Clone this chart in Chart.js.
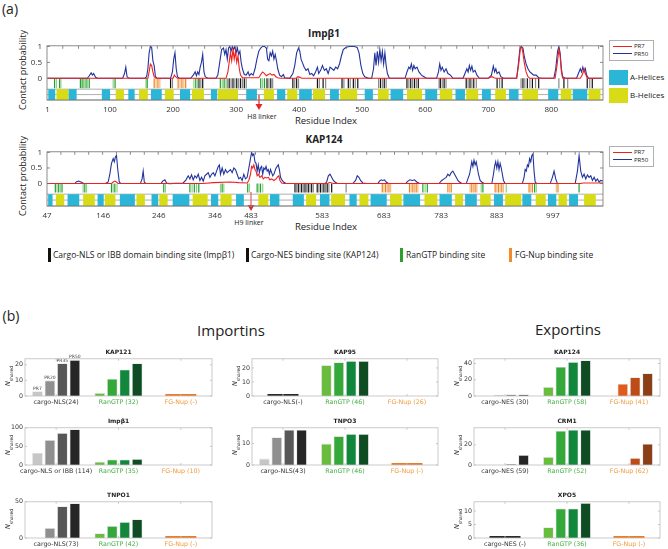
<!DOCTYPE html>
<html>
<head>
<meta charset="utf-8">
<script src="https://cdn.jsdelivr.net/npm/chart.js@4.4.1/dist/chart.umd.min.js"></script>
<style>
  body { margin:0; width:668px; height:549px; position:relative; overflow:hidden; background:#fff; font-family:'Open Sans',sans-serif; color:#222; }
  .t { position:absolute; white-space:nowrap; line-height:1; transform:translate(-50%,-50%); }
  .rot { transform:translate(-50%,-50%) rotate(-90deg); }
  .lg { position:absolute; white-space:nowrap; line-height:1; font-size:8.5px; }
  .bar { position:absolute; width:2.5px; height:14px; }
  .sq { position:absolute; width:19px; height:15px; }
  .bt { position:absolute; font-family:'DejaVu Sans',sans-serif; font-weight:bold; font-size:6px; transform:translate(-50%,-50%); white-space:nowrap; }
  .ns { position:absolute; font-family:'DejaVu Sans',sans-serif; font-size:6.5px; white-space:nowrap; transform:translate(-50%,-50%) rotate(-90deg); }
  .ns sub { font-size:4.5px; }
  .pl { position:absolute; border:1px solid #b0b0b0; background:#fff; width:43px; height:19px; font-size:6px; }
  .pl div { position:absolute; left:3px; width:19px; height:1.2px; }
  .pl span { position:absolute; left:24px; line-height:1; }
</style>
</head>
<body>

<div class="t" style="left:10px;top:9px;font-size:14px;">(a)</div>
<div class="t" style="left:324px;top:33px;font-size:10px;font-weight:bold;">Impβ1</div>
<div class="t rot" style="left:22px;top:70px;font-size:9px;">Contact probability</div>
<div class="t" style="left:326px;top:121px;font-size:9.5px;">Residue Index</div>
<div class="t" style="left:262px;top:116px;font-size:7px;">H8 linker</div>

<div class="t" style="left:324px;top:139px;font-size:10px;font-weight:bold;">KAP124</div>
<div class="t rot" style="left:22px;top:176px;font-size:9px;">Contact probability</div>
<div class="t" style="left:326px;top:227px;font-size:9.5px;">Residue Index</div>
<div class="t" style="left:249px;top:222px;font-size:7px;">H9 linker</div>

<svg style="position:absolute;left:250px;top:94px" width="18" height="20">
  <line x1="9" y1="1" x2="9" y2="12" stroke="#e32626" stroke-width="1.2"/>
  <polygon points="5.5,10 12.5,10 9,16" fill="#e32626"/>
</svg>
<svg style="position:absolute;left:242px;top:191px" width="18" height="24">
  <line x1="9" y1="1" x2="9" y2="16" stroke="#ec5a5a" stroke-width="1.2"/>
  <polygon points="5.5,14 12.5,14 9,20" fill="#e32626"/>
</svg>

<div class="pl" style="left:609px;top:40px;">
  <div style="top:5px;background:#f02020"></div><span style="top:2px">PR7</span>
  <div style="top:12px;background:#22349c"></div><span style="top:9.5px">PR50</span>
</div>
<div class="pl" style="left:609px;top:146px;">
  <div style="top:5px;background:#f02020"></div><span style="top:2px">PR7</span>
  <div style="top:12px;background:#22349c"></div><span style="top:9.5px">PR50</span>
</div>
<div class="sq" style="left:609px;top:70px;background:#2bb6d8"></div>
<div class="lg" style="left:630px;top:73px;font-size:8px;">A-Helices</div>
<div class="sq" style="left:609px;top:88px;background:#d8dc16"></div>
<div class="lg" style="left:630px;top:91px;font-size:8px;">B-Helices</div>

<div class="bar" style="left:48px;top:248px;background:#111"></div>
<div class="lg" style="left:53px;top:251px;">Cargo-NLS or IBB domain binding site (Impβ1)</div>
<div class="bar" style="left:246px;top:248px;background:#111"></div>
<div class="lg" style="left:251px;top:251px;">Cargo-NES binding site (KAP124)</div>
<div class="bar" style="left:400px;top:248px;background:#2ca02c"></div>
<div class="lg" style="left:406px;top:251px;">RanGTP binding site</div>
<div class="bar" style="left:509px;top:248px;background:#f28a2a"></div>
<div class="lg" style="left:515px;top:251px;">FG-Nup binding site</div>

<div class="t" style="left:11px;top:316px;font-size:14px;">(b)</div>
<div class="t" style="left:231px;top:330px;font-size:15px;">Importins</div>
<div class="t" style="left:568px;top:329px;font-size:15px;">Exportins</div>

<script>
// ---------- panel (a): Impβ1 ----------
const impPR50 = [[1,0],[64,0],[67,0.08],[70,0.17],[72,0.1],[74,0.15],[77,0.03],[80,0],
  [120,0],[123,0.15],[125,0.35],[127,0.05],[130,0],
  [155,0],[158,0.05],[160,0.3],[162,0.8],[164,1.0],[166,0.97],[168,0.55],[170,0.4],[172,0.05],[175,0],
  [196,0],[199,0.2],[201,0.6],[203,0.8],[205,0.3],[207,0.05],[210,0],
  [228,0],[232,0.1],[235,0.2],[237,0.08],[239,0.2],[241,0.12],[243,0.35],[245,0.5],[247,0.75],[249,0.2],[251,0.05],[255,0],
  [268,0],[271,0.1],[274,0.5],[277,0.9],[280,0.95],[282,0.75],[284,0.9],[286,0.6],[288,0.95],[290,1.0],[292,0.85],[294,1.0],[296,0.9],[298,1.0],[300,0.8],[302,0.95],[304,0.75],[306,0.85],[308,0.5],[310,0.3],[313,0.12],[316,0.1],[319,0.2],[321,0.08],[324,0.15],[327,0.1],
  [330,0.3],[333,0.6],[336,0.85],[339,0.95],[342,1.0],[345,1.0],[348,0.95],[350,0.6],[352,0.55],[354,0.8],[356,0.7],[358,0.85],[360,0.6],[362,0.75],[364,0.55],[366,0.3],[369,0.1],[372,0.05],[375,0.12],[377,0.02],[385,0],
  [390,0.15],[393,0.4],[396,0.8],[399,0.95],[401,0.85],[403,0.6],[405,0.5],[408,0.35],[411,0.25],[414,0.3],[417,0.12],[420,0.15],[423,0.08],[426,0.2],[429,0.35],[431,0.15],[434,0.25],[437,0.4],[440,0.25],[443,0.3],[446,0.15],[449,0.35],[452,0.3],[455,0.25],[458,0.35],[461,0.3],
  [464,0.45],[467,0.7],[470,0.9],[473,0.95],[476,0.98],[480,1.0],[488,1.0],[492,0.97],[495,0.8],[498,0.4],[501,0.15],[504,0.05],[510,0],
  [515,0],[518,0.3],[520,0.8],[522,0.4],[524,0.85],[526,0.5],[528,0.9],[530,0.55],[532,0.85],[534,0.45],[536,0.8],[538,0.4],[540,0.15],[543,0],
  [568,0],[571,0.2],[574,0.35],[576,0.3],[578,0.45],[580,0.25],[582,0.4],[584,0.3],[587,0.35],[590,0.2],[594,0.1],[598,0.05],[602,0],
  [618,0],[621,0.2],[623,0.45],[625,0.25],[627,0.35],[630,0.2],[633,0.3],[636,0.15],[640,0.1],[644,0],
  [660,0],[663,0.15],[666,0.3],[668,0.2],[670,0.4],[672,0.25],[674,0.38],[676,0.2],[679,0.25],[682,0.1],[686,0],
  [700,0],[705,0.1],[708,0.38],[710,0.2],[712,0.3],[714,0.15],[717,0.2],[720,0.05],[724,0],
  [745,0],[748,0.5],[750,0.9],[752,1.0],[755,0.95],[757,0.7],[760,0.45],[763,0.3],[766,0.2],[769,0.15],[772,0.1],[776,0.1],[780,0.02],[785,0],
  [804,0],[807,0.3],[810,0.85],[812,1.0],[814,0.8],[816,0.3],[818,0.05],[822,0],
  [840,0],[843,0.15],[846,0.3],[848,0.2],[850,0.35],[852,0.2],[854,0.3],[856,0.1],[859,0],[880,0]];
const impPR7 = [[1,0],[160,0],[162,0.2],[164,0.45],[166,0.4],[168,0.2],[170,0.05],[173,0],[200,0],[202,0.1],[204,0.05],[207,0],
  [284,0],[287,0.2],[289,0.5],[291,0.8],[293,0.55],[295,0.9],[297,0.6],[299,0.85],[301,0.5],[303,0.7],[305,0.3],[307,0.1],[310,0.02],
  [336,0.02],[339,0.12],[342,0.2],[345,0.15],[348,0.08],[351,0.12],[354,0.15],[357,0.1],[360,0.12],[363,0.05],[366,0.02],[370,0],
  [395,0],[398,0.05],[401,0.03],[404,0],[700,0],[706,0.05],[709,0.02],[712,0],
  [745,0],[748,0.4],[751,0.95],[753,0.98],[755,0.8],[757,0.5],[760,0.2],[763,0.05],[766,0],
  [806,0],[809,0.4],[812,0.9],[814,0.7],[816,0.2],[818,0],
  [846,0],[849,0.1],[852,0.3],[854,0.15],[857,0],[880,0]];
const impTicks = [1,100,200,300,400,500,600,700,800];
const impRan = [12,15,20,22,53,55,57,59,62,64,67,105,108,157,159,233,236,239,275,278,281,284,339,342,345];
const impFG = [170,173,176,179,208,211,214,217,220];
const impNLS = [196,199,241,244,247,286,289,292,295,298,301,304,307,310,313,316,349,352,355,358,390,393,396,399,429,432,438,442,468,471,478,481,486,489,493,
  526,529,532,535,538,571,574,577,580,583,586,589,622,624,627,630,633,665,668,671,674,677,681,714,718,722,752,755,758,762,766,770,775,780,812,820,826,857,861,865];
const impHelixA = [[2,13],[34,47],[87,100],[129,139],[165,182],[211,227],[260,270],[316,333],[365,378],[400,420],[449,463],[504,517],[545,565],[600,619],[648,663],[690,704],[733,748],[795,811],[834,857]];
const impHelixB = [[15,34],[109,122],[146,160],[187,201],[230,249],[271,303],[344,360],[381,397],[422,441],[465,492],[525,542],[571,595],[623,643],[665,684],[711,728],[754,779],[815,832],[859,878]];

// ---------- panel (a): KAP124 (plot index, labelled with residue numbers) ----------
const kapPR50 = [[0,0],[50,0],[53,0.06],[57,0.08],[62,0.04],[66,0],
  [105,0],[110,0.05],[113,0.3],[116,0.65],[119,0.8],[121,0.7],[123,0.85],[125,0.9],[127,0.5],[130,0.05],[133,0],
  [168,0],[171,0.15],[173,0.4],[175,0.05],[178,0],[205,0],[208,0.08],[212,0.12],[215,0.02],[220,0],
  [245,0.02],[250,0.12],[254,0.25],[257,0.15],[260,0.28],[263,0.12],[266,0.25],[269,0.18],[272,0.3],[275,0.1],[278,0.2],[281,0.08],[284,0.25],[287,0.3],[290,0.35],[293,0.2],[296,0.3],[299,0.35],[302,0.25],[305,0.4],[308,0.55],[310,0.6],[312,0.3],[315,0.5],[318,0.3],[321,0.45],[324,0.35],[327,0.4],[330,0.45],[333,0.35],[336,0.5],[339,0.45],[342,0.3],[345,0.15],[348,0.2],[351,0.1],[354,0.3],[357,0.15],[360,0.2],
  [363,0.5],[366,0.8],[368,1.0],[370,0.9],[372,0.95],[374,0.7],[376,0.65],[378,0.4],[380,0.6],[382,0.35],[384,0.5],[386,0.55],[388,0.3],[390,0.5],[392,0.45],[394,0.55],[396,0.4],[398,0.45],[400,0.3],[402,0.45],[404,0.35],[406,0.25],[408,0.3],[410,0.4],[412,0.5],[414,0.55],[416,0.6],[418,0.45],[420,0.2],[423,0.1],[426,0.04],[430,0],
  [500,0],[503,0.05],[506,0.25],[509,0.3],[512,0.2],[515,0.1],[518,0.05],[522,0],
  [550,0],[555,0.1],[558,0.25],[561,0.2],[564,0.1],[568,0.02],[575,0],
  [595,0],[598,0.08],[601,0.12],[604,0.1],[607,0.12],[610,0.05],[614,0],
  [645,0],[649,0.08],[653,0.12],[657,0.1],[661,0.12],[665,0.05],[670,0],
  [705,0],[710,0.1],[714,0.15],[718,0.2],[721,0.3],[724,0.25],[727,0.35],[730,0.4],[733,0.3],[736,0.2],[739,0.1],[742,0.05],[746,0],
  [754,0],[757,0.15],[760,0.3],[762,0.5],[764,0.7],[766,0.55],[768,0.75],[770,0.6],[772,0.7],[774,0.5],[776,0.3],[779,0.1],[782,0.05],[786,0],
  [800,0],[803,0.3],[805,0.55],[807,0.7],[809,0.5],[811,0.7],[813,0.45],[815,0.65],[817,0.5],[819,0.3],[821,0.1],[824,0],
  [855,0],[858,0.2],[860,0.45],[862,0.4],[864,0.6],[866,0.55],[868,0.8],[870,0.7],[872,0.9],[874,0.95],[876,0.4],[878,0.05],[881,0],
  [905,0],[909,0.2],[912,0.4],[915,0.15],[918,0],
  [950,0],[954,0.4],[957,0.9],[960,0.4],[963,0.2],[966,0.3],[969,0.15],[972,0.28],[975,0.2],[978,0.25],[981,0.1],[984,0.2],[987,0.08],[990,0.15],[993,0.05],[996,0.1],[1000,0.08]];
const kapPR7 = [[0,0],[116,0],[119,0.05],[122,0.08],[125,0.05],[128,0],[280,0],[300,0.03],[330,0.05],[345,0.03],[360,0.02],
  [363,0.1],[366,0.3],[368,0.55],[370,0.5],[372,0.6],[374,0.45],[376,0.4],[378,0.25],[380,0.3],[383,0.2],[386,0.25],[389,0.15],[392,0.2],[395,0.18],[398,0.2],[401,0.12],[404,0.15],[408,0.1],[412,0.15],[415,0.22],[417,0.25],[419,0.1],[422,0.02],[426,0],
  [505,0],[508,0.04],[512,0.02],[516,0],[960,0],[964,0.02],[1000,0.02]];
const kapTickPos = [0,101,201,302,367,495,606,709,809,910];
const kapTickLabels = ['47','146','246','346','483','583','683','783','883','997'];
const kapRan = [15,18,21,24,27,65,68,71,116,119,122,126,210,213,257,261,265,269,273,312,315,318,361,364,378,381,384,388,676,680,684,781,784,826,877,880,957];
const kapNES = [446,449,452,455,458,461,464,467,470,473,476,479,486,489,492,495,498,501,504,507,512,538];
const kapFG = [603,606,609,612,615,618,652,655,658,661,664,667,721,724,727,761,764,767,770,773,806,809,812,815,818,821,867,870,873,916,919];
const kapHelixA = [[2,10],[37,58],[91,102],[131,158],[188,200],[226,256],[295,308],[340,354],[401,418],[442,462],[491,508],[544,557],[582,611],[641,671],[706,728],[752,773],[804,820],[855,871],[901,916],[939,955]];
const kapHelixB = [[16,31],[65,86],[104,123],[161,176],[202,217],[262,289],[312,332],[380,398],[466,484],[511,536],[562,578],[617,638],[679,702],[734,748],[779,798],[824,853],[879,897],[920,935],[966,987]];

// ---------- panel (b): shared counts per PR level ----------
const prLevels = ['PR7','PR20','PR35','PR50'];
const kap121Groups = ['cargo-NLS(24)','RanGTP (32)','FG-Nup (-)'];
const kap121Cargo = [3,10,21,23];
const kap121Ran = [2,11,17,21];
const kap121Fg = null;
const impb1Groups = ['cargo-NLS or IBB (114)','RanGTP (35)','FG-Nup (10)'];
const impb1Cargo = [33,67,86,96];
const impb1Ran = [9,15,15,16];
const impb1Fg = [0,0,0,0];
const tnpo1Groups = ['cargo-NLS(73)','RanGTP (42)','FG-Nup (-)'];
const tnpo1Cargo = [0,14,44,48];
const tnpo1Ran = [6.5,16.5,22,26];
const tnpo1Fg = null;
const kap95Groups = ['cargo-NLS(-)','RanGTP (46)','FG-Nup (26)'];
const kap95Cargo = null;
const kap95Ran = [22,24,25,25];
const kap95Fg = [0,0,0,0];
const tnpo3Groups = ['cargo-NLS(43)','RanGTP (46)','FG-Nup (-)'];
const tnpo3Cargo = [3,13,16.5,16.5];
const tnpo3Ran = [10,13.5,14.5,14.5];
const tnpo3Fg = null;
const kap124Groups = ['cargo-NES (30)','RanGTP (58)','FG-Nup (41)'];
const kap124Cargo = [0,1,2,2];
const kap124Ran = [11,36,42,44];
const kap124Fg = [0,15,23,28];
const crm1Groups = ['cargo-NES (59)','RanGTP (52)','FG-Nup (62)'];
const crm1Cargo = [0,0,1,10];
const crm1Ran = [8,34,35,35];
const crm1Fg = [0,0,7,21];
const xpo5Groups = ['cargo-NES (-)','RanGTP (36)','FG-Nup (-)'];
const xpo5Cargo = null;
const xpo5Ran = [4,11,11,13];
const xpo5Fg = null;

const grays = ['#c6c6c6','#8f8f8f','#575757','#262626'];
const greens = ['#68bd3c','#35a83a','#11873b','#0f4b23'];
const oranges = ['#f27c26','#df5c1a','#bd4c17','#8a3f17'];
const groupTextColors = ['#333','#45ad45','#f29a40'];

Chart.defaults.font.family = 'Open Sans';

function makeCanvas(left, top, w, h) {
  const c = document.createElement('canvas');
  c.width = w; c.height = h;
  c.style.cssText = `position:absolute;left:${left}px;top:${top}px;width:${w}px;height:${h}px`;
  document.body.appendChild(c);
  return c;
}

function line(ctx, x0, y0, x1, y1) {
  ctx.beginPath(); ctx.moveTo(x0, y0); ctx.lineTo(x1, y1); ctx.stroke();
}

function profileDecor(cfg) {
  return {
    id: 'profileDecor',
    beforeDatasetsDraw(chart) {
      const { ctx, chartArea: a, scales: { x, y } } = chart;
      ctx.save();
      const yT = y.getPixelForValue(cfg.stripTop), yB = y.getPixelForValue(cfg.stripBot);
      ctx.strokeStyle = '#9c9c9c'; ctx.lineWidth = 0.8;
      [yT, (yT + yB) / 2, yB].forEach(v => line(ctx, a.left, v, a.right, v));
      cfg.helices.forEach(h => {
        ctx.fillStyle = h.color;
        h.spans.forEach(s => {
          const x0 = x.getPixelForValue(s[0]), x1 = x.getPixelForValue(s[1]);
          ctx.fillRect(x0, yT, x1 - x0, yB - yT);
        });
      });
      const y0 = y.getPixelForValue(0), y1 = y.getPixelForValue(cfg.siteBot);
      ctx.lineWidth = 1.2;
      cfg.sites.forEach(g => {
        g.res.forEach((r, i) => {
          ctx.strokeStyle = i % 2 ? g.light : g.dark;
          const px = x.getPixelForValue(r);
          line(ctx, px, y0, px, y1);
        });
      });
      ctx.restore();
    },
    afterDraw(chart) {
      const { ctx, chartArea: a, scales: { x, y } } = chart;
      ctx.save();
      ctx.strokeStyle = '#707070'; ctx.lineWidth = 0.8;
      ctx.strokeRect(a.left, a.top, a.right - a.left, a.bottom - a.top);
      [0, 0.5, 1].forEach(v => {
        const py = y.getPixelForValue(v);
        line(ctx, a.left, py, a.left + 3, py);
        line(ctx, a.right, py, a.right - 3, py);
      });
      for (let v = x.min + cfg.minor; v < x.max; v += cfg.minor) {
        const px = x.getPixelForValue(v);
        line(ctx, px, a.top, px, a.top + 3);
      }
      ctx.restore();
    }
  };
}

function drawProfile(area, pr50, pr7, xMax, yMin, tickPos, tickLab, cfg) {
  const c = makeCanvas(area.l - 47, area.t - 4, 47 + area.w + 3, 4 + area.h + 18);
  return new Chart(c, {
    type: 'line',
    data: {
      datasets: [
        { label: 'PR7', data: pr7.map(p => ({ x: p[0], y: p[1] })), borderColor: '#f02020', borderWidth: 1.1, pointRadius: 0, tension: 0, order: 0 },
        { label: 'PR50', data: pr50.map(p => ({ x: p[0], y: p[1] })), borderColor: '#22349c', borderWidth: 1.1, pointRadius: 0, tension: 0, order: 1 },
      ],
    },
    options: {
      responsive: false, animation: false,
      layout: { padding: { top: 4, right: 3, left: 0, bottom: 0 } },
      plugins: { legend: { display: false }, tooltip: { enabled: false } },
      scales: {
        x: {
          type: 'linear', min: 0, max: xMax,
          afterFit(s) { s.height = 18; },
          afterBuildTicks(s) { s.ticks = tickPos.map(v => ({ value: v })); },
          ticks: { autoSkip: false, maxRotation: 0, padding: 5, callback: (v, i) => tickLab[i], font: { size: 8 }, color: '#333' },
          grid: { display: false, drawTicks: false }, border: { display: false },
        },
        y: {
          min: yMin, max: 1.02,
          afterFit(s) { s.width = 47; },
          afterBuildTicks(s) { s.ticks = [0, 0.5, 1].map(v => ({ value: v })); },
          ticks: { padding: 5, font: { size: 8 }, color: '#333', callback: v => String(v) },
          grid: { display: false, drawTicks: false }, border: { display: false },
        },
      },
    },
    plugins: [profileDecor(cfg)],
  });
}

drawProfile({ l: 47, t: 40, w: 556, h: 60 }, impPR50, impPR7, 882, -0.68,
  impTicks, impTicks.map(String), {
    stripTop: -0.34, stripBot: -0.68, siteBot: -0.31, minor: 25,
    helices: [{ color: '#2bb6d8', spans: impHelixA }, { color: '#d8dc16', spans: impHelixB }],
    sites: [
      { res: impNLS, dark: '#111', light: '#8a8a8a' },
      { res: impRan, dark: '#22a02a', light: '#8fd28f' },
      { res: impFG, dark: '#f08020', light: '#f8b878' },
    ],
  });

drawProfile({ l: 47, t: 146, w: 556, h: 60 }, kapPR50, kapPR7, 1000, -0.72,
  kapTickPos, kapTickLabels, {
    stripTop: -0.34, stripBot: -0.72, siteBot: -0.29, minor: 25,
    helices: [{ color: '#2bb6d8', spans: kapHelixA }, { color: '#d8dc16', spans: kapHelixB }],
    sites: [
      { res: kapNES, dark: '#111', light: '#8a8a8a' },
      { res: kapRan, dark: '#22a02a', light: '#8fd28f' },
      { res: kapFG, dark: '#f08020', light: '#f8b878' },
    ],
  });

function barDecor(missing, showPR) {
  return {
    id: 'barDecor',
    afterDatasetsDraw(chart) {
      const { ctx, chartArea: a, scales: { x, y } } = chart;
      ctx.save();
      const y0 = y.getPixelForValue(0);
      missing.forEach((m, g) => {
        if (!m) return;
        const cx = x.getPixelForValue(g);
        ctx.fillStyle = g === 0 ? '#2a2a2a' : '#ee7a26';
        ctx.fillRect(cx - 15.5, y0 - 2, 31, 2);
      });
      if (showPR) {
        ctx.fillStyle = '#444';
        ctx.font = '4.5px "DejaVu Sans"';
        ctx.textAlign = 'center'; ctx.textBaseline = 'bottom';
        chart.data.datasets.forEach((ds, i) => {
          const el = chart.getDatasetMeta(i).data[0];
          ctx.fillText(ds.label, el.x, el.y - 0.5);
        });
      }
      ctx.strokeStyle = '#bdbdbd'; ctx.lineWidth = 0.8;
      ctx.strokeRect(a.left, a.top, a.right - a.left, a.bottom - a.top);
      chart.data.labels.forEach((l, g) => {
        const px = x.getPixelForValue(g);
        line(ctx, px, a.top, px, a.top + 2);
        line(ctx, px, a.bottom, px, a.bottom - 2);
      });
      y.ticks.forEach(t => {
        const py = y.getPixelForValue(t.value);
        line(ctx, a.left, py, a.left + 2, py);
        line(ctx, a.right, py, a.right - 2, py);
      });
      ctx.restore();
    }
  };
}

function drawBars(title, l, t, w, h, groups, cargo, ran, fg, yMax, yTicks, showPR) {
  const c = makeCanvas(l - 22, t - 3, w + 25, h + 17);
  const tt = document.createElement('div');
  tt.className = 'bt'; tt.textContent = title;
  tt.style.left = (l + w / 2) + 'px'; tt.style.top = (t - 5) + 'px';
  document.body.appendChild(tt);
  const ns = document.createElement('div');
  ns.className = 'ns'; ns.innerHTML = '<i>N</i><sub>shared</sub>';
  ns.style.left = (l - 16) + 'px'; ns.style.top = (t + h / 2) + 'px';
  document.body.appendChild(ns);
  return new Chart(c, {
    type: 'bar',
    data: {
      labels: groups,
      datasets: prLevels.map((lv, i) => ({
        label: lv,
        data: [cargo ? cargo[i] : null, ran ? ran[i] : null, fg ? fg[i] : null],
        backgroundColor: [grays[i], greens[i], oranges[i]],
        borderColor: '#e2e2e2', borderWidth: 0.8,
        categoryPercentage: 0.8, barPercentage: 0.86,
      })),
    },
    options: {
      responsive: false, animation: false,
      layout: { padding: { top: 3, right: 3, left: 0, bottom: 0 } },
      plugins: { legend: { display: false }, tooltip: { enabled: false } },
      scales: {
        x: {
          afterFit(s) { s.height = 14; },
          grid: { display: false, drawTicks: false }, border: { display: false },
          ticks: { padding: 3, maxRotation: 0, autoSkip: false, font: { family: 'DejaVu Sans', size: 6.3 }, color: ctx => groupTextColors[ctx.index] },
        },
        y: {
          min: 0, max: yMax,
          afterFit(s) { s.width = 22; },
          afterBuildTicks(s) { s.ticks = yTicks.map(v => ({ value: v })); },
          grid: { display: false, drawTicks: false }, border: { display: false },
          ticks: { padding: 2, font: { family: 'DejaVu Sans', size: 6.3 }, color: '#333' },
        },
      },
    },
    plugins: [barDecor([!cargo, !ran, !fg], showPR)],
  });
}

drawBars('KAP121', 25, 356, 187, 40, kap121Groups, kap121Cargo, kap121Ran, kap121Fg, 23.8, [0, 10, 20], true);
drawBars('Impβ1', 25, 425, 187, 40, impb1Groups, impb1Cargo, impb1Ran, impb1Fg, 100, [0, 50, 100], false);
drawBars('TNPO1', 25, 499, 187, 39, tnpo1Groups, tnpo1Cargo, tnpo1Ran, tnpo1Fg, 50, [0, 50], false);
drawBars('KAP95', 252, 356, 186, 40, kap95Groups, kap95Cargo, kap95Ran, kap95Fg, 26.5, [0, 10, 20], false);
drawBars('TNPO3', 252, 425, 186, 40, tnpo3Groups, tnpo3Cargo, tnpo3Ran, tnpo3Fg, 17.4, [0, 10], false);
drawBars('KAP124', 474, 356, 186, 40, kap124Groups, kap124Cargo, kap124Ran, kap124Fg, 45.8, [0, 20, 40], false);
drawBars('CRM1', 474, 425, 186, 40, crm1Groups, crm1Cargo, crm1Ran, crm1Fg, 36.9, [0, 20], false);
drawBars('XPO5', 474, 499, 186, 39, xpo5Groups, xpo5Cargo, xpo5Ran, xpo5Fg, 13.45, [0, 5, 10], false);
</script>
</body>
</html>
